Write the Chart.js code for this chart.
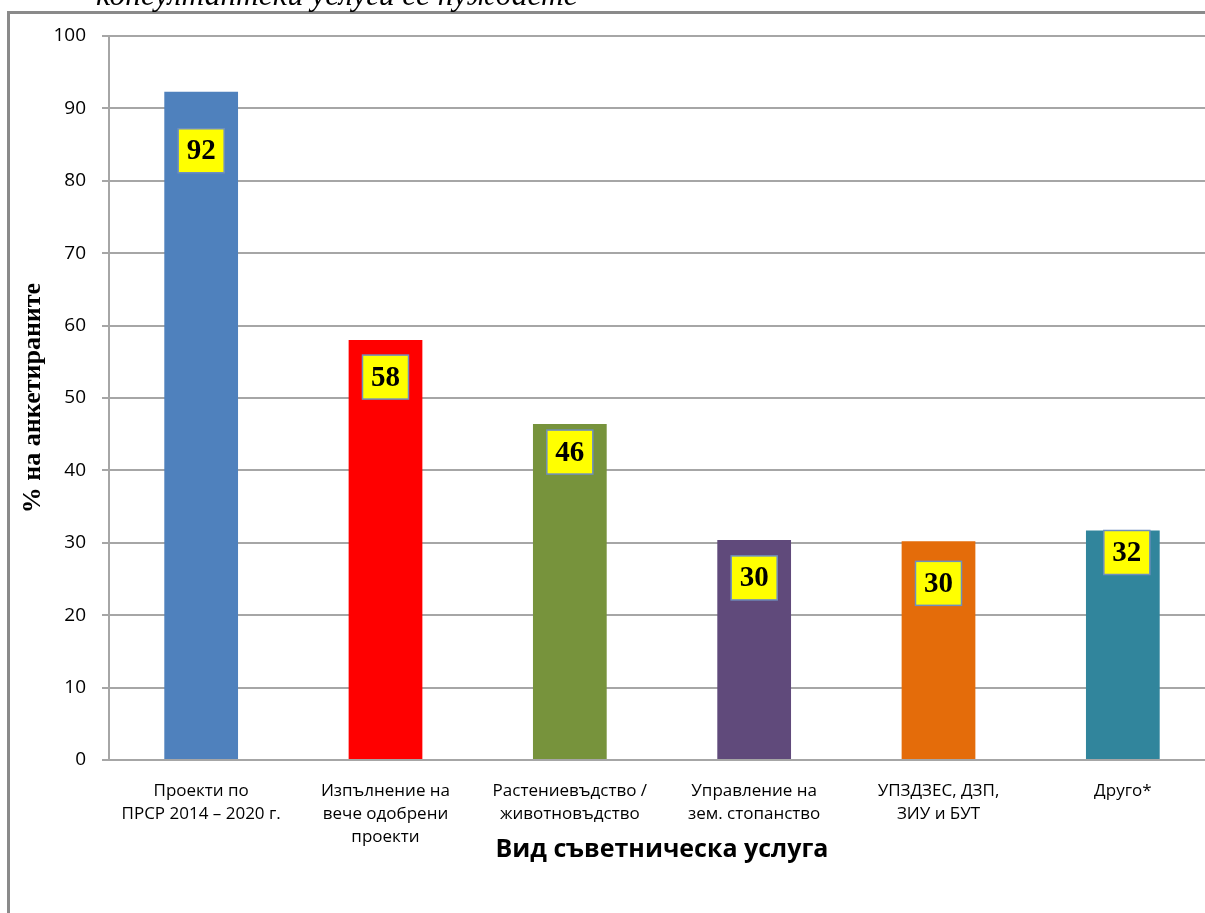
<!DOCTYPE html>
<html>
<head>
<meta charset="utf-8">
<script src="https://cdn.jsdelivr.net/npm/chart.js@4.4.0/dist/chart.umd.min.js"></script>
<style>
  html, body { margin: 0; padding: 0; background: #fff; overflow: hidden; width: 1205px; height: 913px; }
  #frame { position: absolute; left: 7px; top: 11px; width: 3000px; height: 3000px; border: 3px solid #8a8a8a; }
  #wrap { position: absolute; left: 0; top: 0; width: 1225px; height: 913px; }
</style>
</head>
<body>
<div id="frame"></div>
<div id="wrap"><canvas id="myChart" width="1225" height="913"></canvas></div>
<script>
// data
const categories = [
    ['Проекти по', 'ПРСР 2014 – 2020 г.'],
    ['Изпълнение на', 'вече одобрени', 'проекти'],
    ['Растениевъдство /', 'животновъдство'],
    ['Управление на', 'зем. стопанство'],
    ['УПЗДЗЕС, ДЗП,', 'ЗИУ и БУТ'],
    ['Друго*']
];
const shares = [92.3, 58.0, 46.4, 30.4, 30.2, 31.7];
const barColors = ['#4f81bd', '#ff0000', '#77933c', '#604a7b', '#e46c0a', '#31859c'];
const yTicks = [0, 10, 20, 30, 40, 50, 60, 70, 80, 90, 100];
const yTitle = '% на анкетираните';
const xTitle = 'Вид съветническа услуга';
const headText = 'консултантски услуги се нуждаете';

const gridGrey = '#a6a6a6';

// yellow value boxes, dropped by hand below bar tops like in the original
const valueBoxes = {
    id: 'valueBoxes',
    afterDatasetsDraw(chart, args, opts) {
        const ctx = chart.ctx;
        const meta = chart.getDatasetMeta(0);
        meta.data.forEach((bar, i) => {
            const w = 46, h = 44;
            const cx = bar.x + (opts.dx[i] || 0);
            const top = bar.y + opts.drop[i];
            ctx.save();
            ctx.fillStyle = '#ffff00';
            ctx.fillRect(cx - w / 2, top, w, h);
            ctx.strokeStyle = '#6f8fbf';
            ctx.lineWidth = 1.5;
            ctx.strokeRect(cx - w / 2, top, w, h);
            ctx.fillStyle = '#000';
            ctx.font = 'bold 29px "Liberation Serif", "Times New Roman", serif';
            ctx.textAlign = 'center';
            ctx.textBaseline = 'middle';
            ctx.fillText(String(Math.round(shares[i])), cx, top + h / 2 + 1);
            ctx.restore();
        });
    }
};

const headLine = {
    id: 'headLine',
    beforeDraw(chart) {
        const ctx = chart.ctx;
        ctx.save();
        ctx.fillStyle = '#000';
        ctx.font = 'italic 31.5px "Liberation Serif", "Times New Roman", serif';
        ctx.textBaseline = 'alphabetic';
        ctx.fillText(headText, 96, 5);
        ctx.restore();
    }
};

new Chart(document.getElementById('myChart'), {
    type: 'bar',
    data: {
        labels: categories,
        datasets: [{
            data: shares,
            backgroundColor: barColors,
            borderWidth: 0,
            barPercentage: 0.4,
            categoryPercentage: 1
        }]
    },
    options: {
        responsive: false,
        animation: false,
        layout: { padding: { top: 36, left: 0, right: 10, bottom: 0 } },
        plugins: {
            legend: { display: false },
            tooltip: { enabled: false },
            valueBoxes: {
                drop: [37, 15, 6, 16, 20, 0],
                dx: [0, 0, 0, 0, 0, 4]
            }
        },
        scales: {
            x: {
                grid: { display: false, drawTicks: false },
                border: { display: true, color: gridGrey, width: 2 },
                ticks: {
                    color: '#000',
                    padding: 19,
                    maxRotation: 0,
                    autoSkip: false,
                    font: { family: '"Open Sans", sans-serif', size: 17, lineHeight: 1.38 }
                },
                title: {
                    display: true,
                    text: xTitle,
                    color: '#000',
                    font: { family: '"Open Sans", sans-serif', size: 25, weight: 'bold' },
                    padding: { top: 0, bottom: 48 }
                },
                afterFit(scale) { scale.height = 153; }
            },
            y: {
                min: 0,
                max: 100,
                afterBuildTicks(scale) { scale.ticks = yTicks.map(v => ({ value: v })); },
                grid: { color: gridGrey, lineWidth: 2, tickLength: 7 },
                border: { display: true, color: gridGrey, width: 2 },
                ticks: {
                    color: '#000',
                    padding: 16,
                    font: { family: '"Open Sans", sans-serif', size: 19 }
                },
                title: {
                    display: true,
                    text: yTitle,
                    color: '#000',
                    font: { family: '"Liberation Serif", "Times New Roman", serif', size: 26, weight: 'bold' },
                    padding: { top: 18, bottom: 0 }
                },
                afterFit(scale) { scale.width = 109; }
            }
        }
    },
    plugins: [valueBoxes, headLine]
});
</script>
</body>
</html>
